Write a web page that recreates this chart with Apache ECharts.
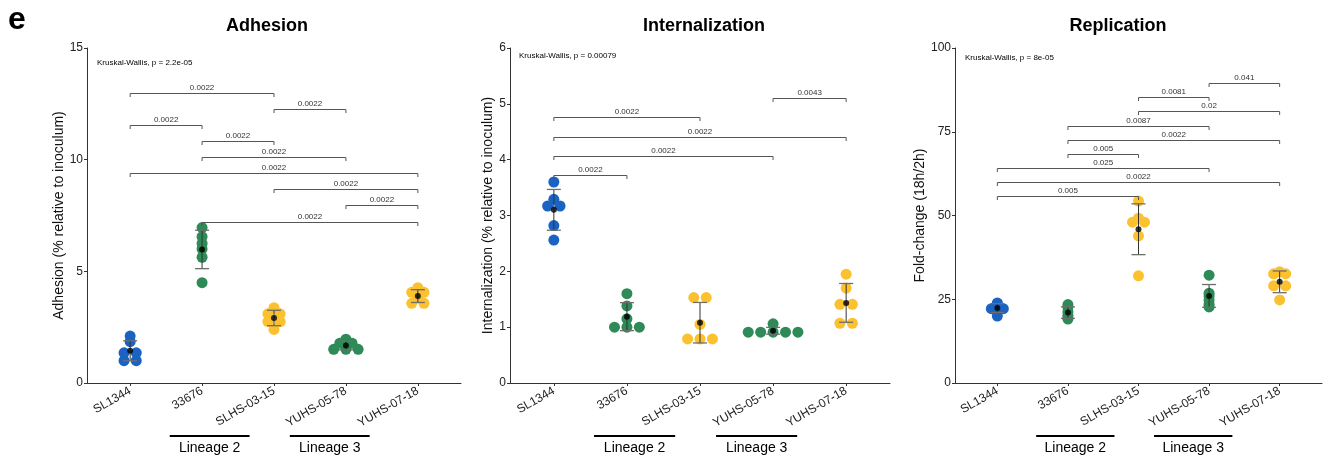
<!DOCTYPE html>
<html><head><meta charset="utf-8">
<script src="https://cdn.jsdelivr.net/npm/echarts@6/dist/echarts.min.js"></script>
<style>html,body{margin:0;padding:0;background:#fff}#c{width:1324px;height:457px}</style>
</head><body><div id="c"></div>
<script>
// ---------------- DATA ----------------
const categories = ['SL1344', '33676', 'SLHS-03-15', 'YUHS-05-78', 'YUHS-07-18'];
const categoryColors = ['#1b63c3', '#2e8b57', '#fcc12e', '#2e8b57', '#fcc12e'];

const adhesionValues = [
  [2.1, 1.85, 1.35, 1.35, 1.0, 1.0],
  [6.96, 6.55, 6.25, 6.0, 5.63, 4.49],
  [3.37, 3.1, 3.1, 2.75, 2.75, 2.4],
  [1.96, 1.78, 1.78, 1.51, 1.51, 1.51],
  [4.27, 4.06, 4.06, 3.82, 3.57, 3.57]
];
const internalizationValues = [
  [3.6, 3.29, 3.17, 3.17, 2.82, 2.56],
  [1.6, 1.38, 1.15, 1.0, 1.0, 1.0],
  [1.53, 1.53, 1.05, 0.79, 0.79, 0.79],
  [1.06, 0.91, 0.91, 0.91, 0.91, 0.91],
  [1.95, 1.7, 1.41, 1.41, 1.07, 1.07]
];
const replicationValues = [
  [23.9, 23.3, 22.6, 22.2, 22.2, 20.0],
  [23.4, 22.6, 21.3, 20.2, 19.5, 19.1],
  [54.3, 49.2, 48.0, 48.0, 43.9, 32.0],
  [32.2, 26.8, 26.0, 24.8, 23.5, 22.7],
  [33.2, 32.6, 32.6, 29.0, 29.0, 24.8]
];

// brackets: [fromCategory, toCategory, height (y units), p label]
const adhesionBrackets = [
  [1, 3, 12.97, '0.0022'], [3, 4, 12.25, '0.0022'], [1, 2, 11.54, '0.0022'],
  [2, 3, 10.82, '0.0022'], [2, 4, 10.1, '0.0022'], [1, 5, 9.39, '0.0022'],
  [3, 5, 8.67, '0.0022'], [4, 5, 7.97, '0.0022'], [2, 5, 7.22, '0.0022']
];
const internalizationBrackets = [
  [4, 5, 5.11, '0.0043'], [1, 3, 4.76, '0.0022'], [1, 5, 4.41, '0.0022'],
  [1, 4, 4.07, '0.0022'], [1, 2, 3.73, '0.0022']
];
const replicationBrackets = [
  [4, 5, 89.6, '0.041'], [3, 4, 85.4, '0.0081'], [3, 5, 81.2, '0.02'],
  [2, 4, 76.8, '0.0087'], [2, 5, 72.6, '0.0022'], [2, 3, 68.4, '0.005'],
  [1, 4, 64.2, '0.025'], [1, 5, 59.9, '0.0022'], [1, 3, 55.8, '0.005']
];

const panelTitles = ['Adhesion', 'Internalization', 'Replication'];
const yAxisNames = ['Adhesion (% relative to inoculum)', 'Internalization (% relative to inoculum)', 'Fold-change (18h/2h)'];
const yAxisMax = [15, 6, 100];
const yAxisInterval = [5, 1, 25];
const kruskalLabels = ['Kruskal-Wallis, p = 2.2e-05', 'Kruskal-Wallis, p = 0.00079', 'Kruskal-Wallis, p = 8e-05'];
const lineageLabels = ['Lineage 2', 'Lineage 3'];
const lineageSpans = [[1.55, 2.66], [3.22, 4.33]];

// ---------------- LAYOUT ----------------
const FONT = "'Liberation Sans', Arial, Helvetica, sans-serif";
const grids = [
  {left: 87, top: 48, width: 374, height: 335},
  {left: 510, top: 48, width: 380, height: 335},
  {left: 955, top: 48, width: 367, height: 335}
];
const nameGaps = [15, 15, 27];
const titleX = [267, 704, 1118];
const kwPos = [[97, 63], [519, 56], [965, 58]];
const DOT_STEP = 0.17;

const allValues = [adhesionValues, internalizationValues, replicationValues];
const allBrackets = [adhesionBrackets, internalizationBrackets, replicationBrackets];

function mean(a) { return a.reduce((s, v) => s + v, 0) / a.length; }
function sd(a) { const m = mean(a); return Math.sqrt(a.reduce((s, v) => s + (v - m) * (v - m), 0) / (a.length - 1)); }

// dot-plot: equal values stack side by side, centred on the category
function dotPoints(vals, catIdx) {
  const groups = {};
  vals.forEach(v => { (groups[v] = groups[v] || []).push(v); });
  const pts = [];
  Object.keys(groups).forEach(k => {
    const g = groups[k];
    g.forEach((v, j) => pts.push({
      value: [catIdx + 1 + (j - (g.length - 1) / 2) * DOT_STEP, v],
      itemStyle: {color: categoryColors[catIdx]}
    }));
  });
  return pts;
}

const xAxes = [], yAxes = [], series = [];
for (let p = 0; p < 3; p++) {
  xAxes.push({
    gridIndex: p, type: 'value', min: 0.4, max: 5.6,
    axisLine: {show: true, onZero: false, lineStyle: {color: '#333', width: 1}},
    axisTick: {show: true, length: 3, customValues: [1, 2, 3, 4, 5], lineStyle: {color: '#333'}},
    axisLabel: {show: true, customValues: [1, 2, 3, 4, 5], rotate: 30, margin: 7, fontSize: 12, color: '#222', fontFamily: FONT,
      formatter: v => categories[Math.round(v) - 1] || ''},
    splitLine: {show: false}
  });
  yAxes.push({
    gridIndex: p, type: 'value', min: 0, max: yAxisMax[p], interval: yAxisInterval[p],
    name: yAxisNames[p], nameLocation: 'middle', nameGap: nameGaps[p],
    nameTextStyle: {fontSize: 14, color: '#111', fontFamily: FONT},
    axisLine: {show: true, lineStyle: {color: '#333', width: 1}},
    axisTick: {show: true, length: 3, lineStyle: {color: '#333'}},
    axisLabel: {fontSize: 12, color: '#222', margin: 4, fontFamily: FONT},
    splitLine: {show: false}
  });

  const vals = allValues[p];
  let dots = [];
  vals.forEach((v, i) => { dots = dots.concat(dotPoints(v, i)); });
  series.push({
    type: 'scatter', xAxisIndex: p, yAxisIndex: p, symbolSize: 11, data: dots, z: 2,
    itemStyle: {opacity: 1}
  });
  series.push({
    type: 'custom', xAxisIndex: p, yAxisIndex: p, z: 3,
    data: vals.map((v, i) => [i + 1, mean(v), sd(v)]),
    encode: {x: 0, y: 1},
    renderItem: (params, api) => {
      const x = api.value(0), m = api.value(1), s = api.value(2);
      const t = api.coord([x, m + s]), b = api.coord([x, m - s]);
      return {type: 'group', children: [
        {type: 'line', shape: {x1: t[0], y1: t[1], x2: b[0], y2: b[1]}, style: {stroke: '#333', lineWidth: 1}},
        {type: 'line', shape: {x1: t[0] - 7, y1: t[1], x2: t[0] + 7, y2: t[1]}, style: {stroke: '#6e6e6e', lineWidth: 1.3}},
        {type: 'line', shape: {x1: b[0] - 7, y1: b[1], x2: b[0] + 7, y2: b[1]}, style: {stroke: '#6e6e6e', lineWidth: 1.3}}
      ]};
    }
  });
  series.push({
    type: 'scatter', xAxisIndex: p, yAxisIndex: p, symbolSize: 6, z: 4,
    itemStyle: {color: '#000'},
    data: vals.map((v, i) => [i + 1, mean(v)])
  });
  const br = allBrackets[p];
  series.push({
    type: 'custom', xAxisIndex: p, yAxisIndex: p, z: 5, clip: false,
    data: br.map(b => [b[0], b[1], b[2]]),
    encode: {x: [0, 1], y: 2},
    renderItem: (params, api) => {
      const b = br[params.dataIndex];
      const a = api.coord([b[0], b[2]]), c = api.coord([b[1], b[2]]);
      const y = Math.round(a[1]) + 0.5;
      return {type: 'group', children: [
        {type: 'polyline', shape: {points: [[a[0], y + 3.5], [a[0], y], [c[0], y], [c[0], y + 3.5]]},
          style: {stroke: '#555', lineWidth: 1, fill: null}},
        {type: 'text', style: {text: b[3], x: (a[0] + c[0]) / 2, y: y - 2,
          align: 'center', verticalAlign: 'bottom', textAlign: 'center', textVerticalAlign: 'bottom',
          fontSize: 8, fontFamily: FONT, fill: '#333'}}
      ]};
    }
  });
}

const chart = echarts.init(document.getElementById('c'), null, {renderer: 'canvas'});
chart.setOption({
  animation: false,
  backgroundColor: '#fff',
  grid: grids.map(g => Object.assign({containLabel: false}, g)),
  xAxis: xAxes, yAxis: yAxes, series: series
});

const graphics = [];
function txt(text, x, y, size, weight, align, valign) {
  return {type: 'text', x: x, y: y, silent: true, style: {
    text: text, fontSize: size, fontWeight: weight, fontFamily: FONT, fill: '#000',
    align: align, verticalAlign: valign, textAlign: align, textVerticalAlign: valign}};
}
graphics.push(txt('e', 8, 20, 32, 'bold', 'left', 'middle'));
for (let p = 0; p < 3; p++) {
  graphics.push(txt(panelTitles[p], titleX[p], 26, 18, 'bold', 'center', 'middle'));
  graphics.push(txt(kruskalLabels[p], kwPos[p][0], kwPos[p][1], 8, 'normal', 'left', 'middle'));
  lineageSpans.forEach((sp, k) => {
    const x1 = chart.convertToPixel({xAxisIndex: p}, sp[0]);
    const x2 = chart.convertToPixel({xAxisIndex: p}, sp[1]);
    graphics.push({type: 'line', silent: true, shape: {x1: x1, y1: 436, x2: x2, y2: 436}, style: {stroke: '#000', lineWidth: 2}});
    graphics.push(txt(lineageLabels[k], (x1 + x2) / 2, 448, 14, 'normal', 'center', 'middle'));
  });
}
chart.setOption({graphic: graphics});
</script>
</body></html>
